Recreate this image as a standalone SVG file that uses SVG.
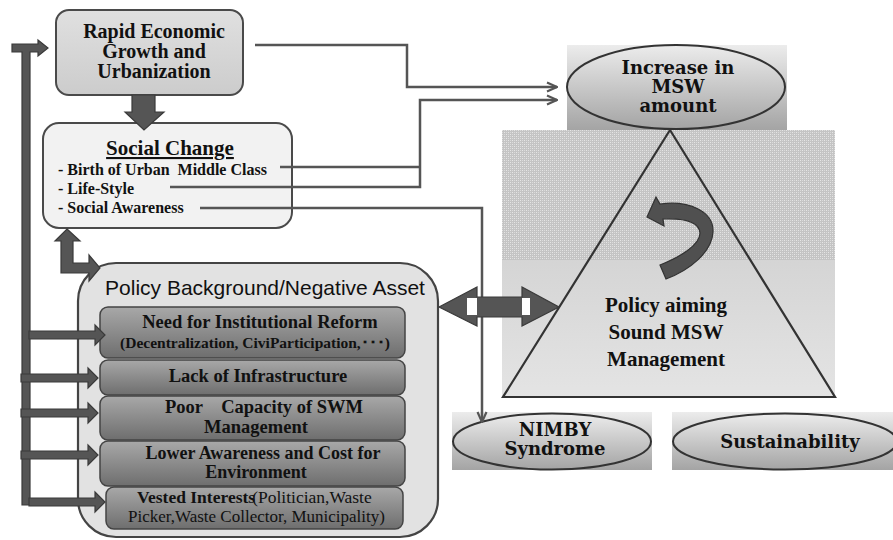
<svg xmlns="http://www.w3.org/2000/svg" width="893" height="540" viewBox="0 0 893 540">
<defs>
<style>
.conn{fill:none;stroke:#555;stroke-width:2.5}
.blk{fill:#555;stroke:#3a3a3a;stroke-width:1.2}
.ser{font-family:"Liberation Serif","Times New Roman",serif;font-weight:bold;fill:#111}
.serr{font-family:"Liberation Serif","Times New Roman","Noto Sans CJK JP",serif;fill:#111}
.dej{font-family:"DejaVu Serif",serif;font-weight:bold;font-size:18px;fill:#111;text-anchor:middle}
.inner{fill:url(#gInner);stroke:#444;stroke-width:1.5}
.mid{text-anchor:middle}
</style>
<linearGradient id="gRapid" x1="0" y1="0" x2="0" y2="1"><stop offset="0" stop-color="#e0e0e0"/><stop offset="1" stop-color="#cccccc"/></linearGradient>
<linearGradient id="gInner" x1="0" y1="0" x2="0" y2="1"><stop offset="0" stop-color="#a8a8a8"/><stop offset="1" stop-color="#6e6e6e"/></linearGradient>
<linearGradient id="gOval" x1="0" y1="0" x2="0" y2="1"><stop offset="0" stop-color="#ececec"/><stop offset="1" stop-color="#a4a4a4"/></linearGradient>
<linearGradient id="gTri" x1="0" y1="0" x2="0" y2="1"><stop offset="0" stop-color="#c6c6c6"/><stop offset="1" stop-color="#e4e4e4"/></linearGradient>
<pattern id="stip" width="4" height="4" patternUnits="userSpaceOnUse">
<rect width="4" height="4" fill="#c4c4c4"/>
<rect x="0" y="0" width="1" height="1" fill="#e6e6e6"/>
<rect x="2" y="0" width="1" height="1" fill="#dadada"/>
<rect x="0" y="2" width="1" height="1" fill="#dadada"/>
<rect x="2" y="2" width="1" height="1" fill="#e6e6e6"/>
</pattern>
<marker id="open" viewBox="0 0 12 12" refX="11" refY="6" markerWidth="12" markerHeight="12" markerUnits="userSpaceOnUse" orient="auto">
<path d="M1 1.5 L11 6 L1 10.5" fill="none" stroke="#555" stroke-width="2.2"/>
</marker>
</defs>
<rect width="893" height="540" fill="#fff"/>

<g id="pyramid">
<rect x="502" y="130" width="333" height="267" fill="url(#gTri)"/>
<rect x="502" y="130" width="333" height="130" fill="url(#stip)"/>
<polygon points="670,130 503,397 835,397" fill="none" stroke="#333" stroke-width="2.2"/>
<path d="M 647 217 L 656 197 L 660 204 C 690 200, 714 212, 713 232 C 712 252, 690 270, 666 279 L 660 265 C 680 257, 700 245, 700 233 C 699 222, 685 218, 663 219 L 664 226 Z" fill="#505050" stroke="#333" stroke-width="1.2"/>
<text class="ser mid" font-size="21" x="666" y="312">Policy aiming</text>
<text class="ser mid" font-size="21" x="666" y="339">Sound MSW</text>
<text class="ser mid" font-size="21" x="666" y="366">Management</text>
</g>

<g id="increase">
<rect x="567" y="45" width="220" height="85" fill="url(#gOval)"/>
<ellipse cx="676" cy="87" rx="109" ry="42" fill="url(#gOval)" stroke="#333" stroke-width="2"/>
<text class="dej" font-size="19" x="678" y="74">Increase in</text>
<text class="dej" font-size="19" x="678" y="93">MSW</text>
<text class="dej" font-size="19" x="678" y="112">amount</text>
</g>

<g id="nimby">
<rect x="452" y="412" width="200" height="58" fill="url(#gOval)"/>
<ellipse cx="552" cy="441.5" rx="99" ry="28" fill="url(#gOval)" stroke="#333" stroke-width="2"/>
<text class="dej" x="555" y="436">NIMBY</text>
<text class="dej" x="555" y="455">Syndrome</text>
</g>

<g id="sustainability">
<rect x="672" y="412" width="221" height="58" fill="url(#gOval)"/>
<ellipse cx="785" cy="441.5" rx="112" ry="28" fill="url(#gOval)" stroke="#333" stroke-width="2"/>
<text class="dej" font-size="19" x="790" y="448">Sustainability</text>
</g>

<g id="rapid">
<rect x="56" y="10" width="187" height="85" rx="13" fill="url(#gRapid)" stroke="#4a4a4a" stroke-width="2"/>
<text class="ser mid" font-size="20" x="154" y="38">Rapid Economic</text>
<text class="ser mid" font-size="20" x="154" y="58">Growth and</text>
<text class="ser mid" font-size="20" x="154" y="78">Urbanization</text>
</g>

<g id="social">
<rect x="43" y="123" width="249" height="105" rx="16" fill="#f2f2f2" stroke="#4a4a4a" stroke-width="2"/>
<text class="ser mid" font-size="21" x="170" y="155" text-decoration="underline">Social Change</text>
<text class="ser" font-size="16" x="58" y="175" xml:space="preserve">- Birth of Urban  Middle Class</text>
<text class="ser" font-size="16" x="58" y="194">- Life-Style</text>
<text class="ser" font-size="16" x="58" y="213">- Social Awareness</text>
</g>

<g id="policy">
<rect x="78" y="263" width="360" height="274" rx="38" fill="#e2e2e2" stroke="#444" stroke-width="2.2"/>
<text x="265" y="295" font-family="Liberation Sans, Arial, sans-serif" font-size="21" fill="#111" text-anchor="middle">Policy Background/Negative Asset</text>
</g>

<g id="reform">
<rect class="inner" x="100" y="307" width="305" height="51" rx="8"/>
<text class="ser mid" font-size="18.5" x="260" y="328">Need for Institutional Reform</text>
<text class="ser mid" font-size="15.5" x="255" y="348">(Decentralization, CiviParticipation,･･･)</text>
</g>
<g id="infra">
<rect class="inner" x="100" y="360" width="305" height="35" rx="8"/>
<text class="ser mid" font-size="18.5" x="258" y="382">Lack of Infrastructure</text>
</g>
<g id="capacity">
<rect class="inner" x="100" y="396" width="305" height="44" rx="8"/>
<text class="ser" font-size="18.5" x="165" y="413">Poor</text>
<text class="ser" font-size="18.5" x="363" y="413" text-anchor="end">Capacity of SWM</text>
<text class="ser mid" font-size="18.5" x="256" y="433">Management</text>
</g>
<g id="awareness">
<rect class="inner" x="100" y="441" width="305" height="45" rx="8"/>
<text class="ser mid" font-size="18" x="263" y="459">Lower Awareness and Cost for</text>
<text class="ser mid" font-size="18" x="256" y="478">Environment</text>
</g>
<g id="vested">
<rect class="inner" x="106" y="487" width="297" height="42" rx="8"/>
<text font-size="17.5" x="137" y="503"><tspan class="ser">Vested Interests</tspan><tspan class="serr" dx="-3">(Politician,Waste</tspan></text>
<text class="serr" font-size="17" x="128" y="522">Picker,Waste Collector, Municipality)</text>
</g>

<g id="connectors">
<path class="conn" d="M 255 45 H 407 V 87 H 557" marker-end="url(#open)"/>
<path class="conn" d="M 280 167 H 420"/>
<path class="conn" d="M 170 187 H 420 V 100 H 557" marker-end="url(#open)"/>
<path class="conn" d="M 200 208 H 482 V 422" marker-end="url(#open)"/>
<polygon class="blk" points="132,95 155,95 155,112 164,112 144,130 125,112 132,112"/>
<polygon class="blk" points="12,44 38,44 38,40 48,48 38,56 38,52 30,52 30,505 22,505 22,52 12,52"/>
<polygon class="blk" points="29,331 95,331 95,325 105,335 95,345 95,339 29,339"/>
<polygon class="blk" points="21,374 88,374 88,368 98,378 88,388 88,382 21,382"/>
<polygon class="blk" points="21,409 88,409 88,403 98,413 88,423 88,417 21,417"/>
<polygon class="blk" points="21,451 88,451 88,445 98,455 88,465 88,459 21,459"/>
<polygon class="blk" points="29,498 95,498 95,492 105,502 95,512 95,506 29,506"/>
<polygon class="blk" points="67,229 80,241 73,241 73,263 89,263 89,255 100,268 89,281 89,273 61,273 61,241 55,241"/>
<polygon class="blk" points="439,307 477,287 477,297 522,297 522,287 559,307 522,326 522,317 477,317 477,326"/>
<rect x="467" y="298" width="10" height="17" fill="#fff"/>
<rect x="522" y="298" width="8" height="17" fill="#fff"/>
</g>
</svg>
